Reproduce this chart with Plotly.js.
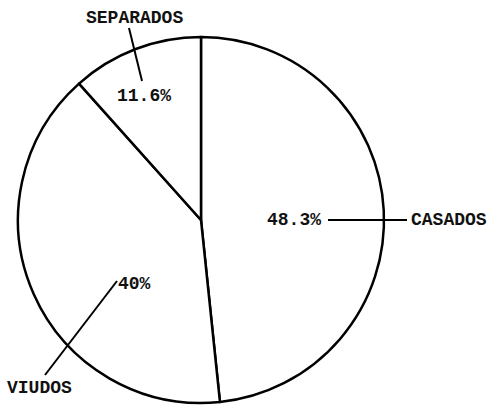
<!DOCTYPE html>
<html><head><meta charset="utf-8">
<script src="https://cdn.plot.ly/plotly-3.0.1.min.js"></script>
<style>html,body{margin:0;padding:0;background:#fff}#c{width:489px;height:406px}</style>
</head><body><div id="c"></div>
<script>
const categories = ["CASADOS", "VIUDOS", "SEPARADOS"];
const values = [48.3, 40, 11.6];
const pctLabels = ["48.3%", "40%", "11.6%"];

const W = 489, H = 406;
const px = x => x / W, py = y => 1 - y / H;

// label placement (pixels) for percentage and category texts
const pctPos = [[294, 220], [134, 284], [144, 96]];
const catPos = [[449, 220], [39, 388], [134, 18]];
const leaders = [[[328, 220], [407, 220]], [[45, 375], [117, 281]], [[129, 28], [142, 81]]];

const font = {family: "Liberation Mono, DejaVu Sans Mono, monospace", size: 18, color: "#111"};
const annotations = [];
categories.forEach((c, i) => {
  annotations.push({x: px(catPos[i][0]), y: py(catPos[i][1]), xref: "paper", yref: "paper", xanchor: "center", yanchor: "middle",
    text: "<b>" + c + "</b>", showarrow: false, font: font});
  annotations.push({x: px(pctPos[i][0]), y: py(pctPos[i][1]), xref: "paper", yref: "paper", xanchor: "center", yanchor: "middle",
    text: "<b>" + pctLabels[i] + "</b>", showarrow: false, font: font});
});
const shapes = leaders.map(l => ({type: "line", xref: "paper", yref: "paper",
  x0: px(l[0][0]), y0: py(l[0][1]), x1: px(l[1][0]), y1: py(l[1][1]), line: {color: "#000", width: 2}}));

const cx = 201, cy = 220, r = 183;
Plotly.newPlot("c", [{
  type: "pie", labels: categories, values: values, sort: false, direction: "clockwise", rotation: 0,
  textinfo: "none", hoverinfo: "none",
  marker: {colors: ["#fff", "#fff", "#fff"], line: {color: "#000", width: 2.5}},
  domain: {x: [px(cx - r), px(cx + r)], y: [py(cy + r), py(cy - r)]}
}], {
  width: W, height: H, margin: {l: 0, r: 0, t: 0, b: 0}, showlegend: false,
  paper_bgcolor: "#fff", plot_bgcolor: "#fff", annotations: annotations, shapes: shapes
}, {displayModeBar: false, staticPlot: true});
</script></body></html>
